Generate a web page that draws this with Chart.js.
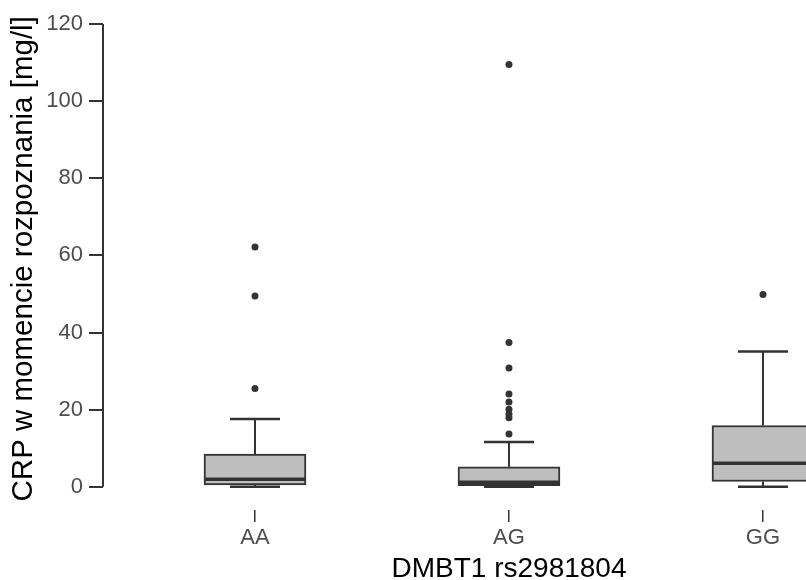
<!DOCTYPE html>
<html>
<head>
<meta charset="utf-8">
<script src="https://cdn.jsdelivr.net/npm/chart.js@4.4.1/dist/chart.umd.min.js"></script>
<style>
  body { margin: 0; background: #fff; }
</style>
</head>
<body>
<canvas id="myChart" width="806" height="580"></canvas>
<script>
var categories = ["AA", "AG", "GG"];
var q1Values = [0.5, 0.3, 1.4];
var medianValues = [2.0, 1.2, 6.1];
var q3Values = [8.5, 5.2, 15.9];
var whiskerLow = [0, 0, 0];
var whiskerHigh = [17.6, 11.6, 35.1];
var outliers = [
  [25.5, 49.5, 62.2],
  [13.7, 17.9, 18.9, 20.1, 22.0, 24.1, 30.8, 37.4, 109.5],
  [49.9]
];
var yTicks = [0, 20, 40, 60, 80, 100, 120];
var xTitle = "DMBT1 rs2981804";
var yTitle = "  CRP w momencie rozpoznania [mg/l]";

var fontFamily = "'Liberation Sans', Arial, sans-serif";
var lineColor = "#333333";

var boxData = categories.map(function(c, i) {
  return { x: i + 1, y: [q1Values[i], q3Values[i]] };
});
var outlierData = [];
outliers.forEach(function(list, i) {
  list.forEach(function(v) { outlierData.push({ x: i + 1, y: v }); });
});

//===================whiskers, medians, axis line and x title==================//
var boxExtras = {
  id: "boxExtras",
  afterDatasetsDraw: function(chart) {
    var c = chart.ctx, xs = chart.scales.x, ys = chart.scales.y;
    var area = chart.chartArea;
    c.save();
    c.strokeStyle = lineColor;
    c.lineCap = "butt";
    categories.forEach(function(cat, i) {
      var cx = xs.getPixelForValue(i + 1);
      var capHalf = 25, boxHalf = 51;
      c.lineWidth = 2;
      c.beginPath();
      c.moveTo(cx, ys.getPixelForValue(q3Values[i]));
      c.lineTo(cx, ys.getPixelForValue(whiskerHigh[i]));
      c.moveTo(cx, ys.getPixelForValue(q1Values[i]));
      c.lineTo(cx, ys.getPixelForValue(whiskerLow[i]));
      c.stroke();
      c.lineWidth = 2.5;
      c.beginPath();
      c.moveTo(cx - capHalf, ys.getPixelForValue(whiskerHigh[i]));
      c.lineTo(cx + capHalf, ys.getPixelForValue(whiskerHigh[i]));
      c.moveTo(cx - capHalf, ys.getPixelForValue(whiskerLow[i]));
      c.lineTo(cx + capHalf, ys.getPixelForValue(whiskerLow[i]));
      c.stroke();
      c.lineWidth = 3.5;
      c.beginPath();
      c.moveTo(cx - boxHalf, ys.getPixelForValue(medianValues[i]));
      c.lineTo(cx + boxHalf, ys.getPixelForValue(medianValues[i]));
      c.stroke();
    });
    // y axis line only over the tick range
    c.lineWidth = 2;
    c.beginPath();
    c.moveTo(area.left, ys.getPixelForValue(yTicks[0]));
    c.lineTo(area.left, ys.getPixelForValue(yTicks[yTicks.length - 1]));
    c.stroke();
    // x title sits under the middle group
    c.fillStyle = "#000";
    c.font = "28px " + fontFamily;
    c.textAlign = "center";
    c.textBaseline = "alphabetic";
    c.fillText(xTitle, xs.getPixelForValue(2), 577);
    c.restore();
  }
};

var ctx = document.getElementById('myChart').getContext('2d');
new Chart(ctx, {
  type: "bar",
  data: {
    datasets: [{
      data: boxData,
      backgroundColor: "#bebebe",
      borderColor: lineColor,
      borderWidth: 2,
      borderSkipped: false,
      barThickness: 102,
      clip: false,
      order: 2
    }, {
      type: "scatter",
      data: outlierData,
      pointRadius: 3.5,
      pointBackgroundColor: lineColor,
      pointBorderWidth: 0,
      clip: false,
      order: 1
    }]
  },
  options: {
    responsive: false,
    animation: false,
    layout: { padding: { top: 24, left: 0, right: 0, bottom: 0 } },
    plugins: { legend: { display: false }, tooltip: { enabled: false } },
    scales: {
      x: {
        type: "linear",
        offset: false,
        min: 0.4016,
        max: 3.1536,
        border: { display: false },
        grid: { offset: false, drawOnChartArea: false, tickLength: 12, color: lineColor, lineWidth: 1.5 },
        afterBuildTicks: function(s) {
          s.ticks = categories.map(function(c, i) { return { value: i + 1 }; });
        },
        afterFit: function(s) { s.height = 70; },
        ticks: {
          autoSkip: false,
          maxRotation: 0,
          padding: 3,
          color: "#4d4d4d",
          font: { family: fontFamily, size: 22 },
          callback: function(v) { return categories[v - 1]; }
        }
      },
      y: {
        min: -6,
        max: 120,
        border: { display: false },
        grid: { drawOnChartArea: false, tickLength: 14, color: lineColor, lineWidth: 2 },
        afterBuildTicks: function(s) {
          s.ticks = yTicks.map(function(v) { return { value: v }; });
        },
        afterFit: function(s) { s.width = 103; },
        ticks: {
          padding: 6,
          color: "#4d4d4d",
          font: { family: fontFamily, size: 22 }
        },
        title: {
          display: true,
          text: yTitle,
          color: "#000",
          font: { family: fontFamily, size: 29.5, lineHeight: 1 },
          padding: { top: 9, bottom: 0 }
        }
      }
    }
  },
  plugins: [boxExtras]
});
</script>
</body>
</html>
